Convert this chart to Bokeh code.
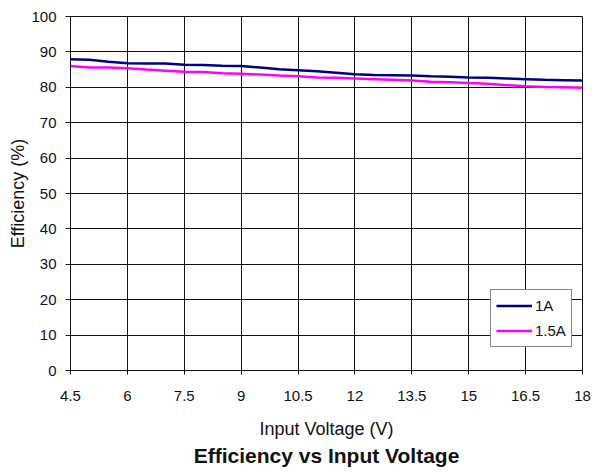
from bokeh.plotting import figure
from bokeh.models import Range1d, FixedTicker, Legend, LegendItem, Title
from bokeh.embed import file_html
from bokeh.resources import INLINE

# ---- data ----
voltage = [4.5, 5, 5.5, 6, 6.5, 7, 7.5, 8, 8.5, 9, 9.5, 10, 10.5, 11, 11.5,
           12, 12.5, 13, 13.5, 14, 14.5, 15, 15.5, 16, 16.5, 17, 17.5, 18]
eff_1a = [87.9, 87.8, 87.2, 86.8, 86.7, 86.7, 86.4, 86.3, 86.1, 86.0, 85.6, 85.1, 84.8, 84.5, 84.1,
          83.7, 83.5, 83.4, 83.3, 83.1, 83.0, 82.8, 82.7, 82.5, 82.3, 82.1, 82.0, 81.9]
eff_15a = [86.0, 85.6, 85.6, 85.4, 85.0, 84.7, 84.4, 84.3, 84.0, 83.8, 83.6, 83.3, 83.1, 82.8, 82.7,
           82.5, 82.3, 82.1, 81.9, 81.6, 81.4, 81.2, 81.0, 80.6, 80.3, 80.1, 80.0, 79.9]
series_names = ["1A", "1.5A"]
x_ticks = [4.5, 6, 7.5, 9, 10.5, 12, 13.5, 15, 16.5, 18]
x_tick_labels = ["4.5", "6", "7.5", "9", "10.5", "12", "13.5", "15", "16.5", "18"]
y_ticks = [0, 10, 20, 30, 40, 50, 60, 70, 80, 90, 100]
y_tick_labels = ["0", "10", "20", "30", "40", "50", "60", "70", "80", "90", "100"]

FONT = "Liberation Sans"

p = figure(width=592, height=472, output_backend="svg", toolbar_location=None,
           x_range=Range1d(4.5, 18), y_range=Range1d(0, 100),
           min_border_left=70, min_border_right=10, min_border_top=16, min_border_bottom=102)
p.background_fill_color = "white"
p.border_fill_color = "white"
p.outline_line_color = "#111111"
p.outline_line_width = 1

# axes
for ax in (p.xaxis[0], p.yaxis[0]):
    ax.axis_line_color = "#111111"
    ax.major_tick_line_color = "#111111"
    ax.minor_tick_line_color = None
    ax.major_tick_in = 0
    ax.major_label_text_font = FONT
    ax.major_label_text_font_size = "15px"
    ax.major_label_text_color = "#111111"
    ax.axis_label_text_font = FONT
    ax.axis_label_text_font_size = "18px"
    ax.axis_label_text_font_style = "normal"
    ax.axis_label_text_color = "#111111"

p.xaxis.ticker = FixedTicker(ticks=x_ticks)
p.xaxis.major_label_overrides = {t: l for t, l in zip(x_ticks, x_tick_labels)}
p.xaxis.major_tick_out = 4
p.xaxis.major_label_standoff = 16
p.xaxis.axis_label = "Input Voltage (V)"
p.xaxis.axis_label_standoff = 15

p.yaxis.ticker = FixedTicker(ticks=y_ticks)
p.yaxis.major_label_overrides = {t: l for t, l in zip(y_ticks, y_tick_labels)}
p.yaxis.major_tick_out = 5
p.yaxis.major_label_standoff = 9
p.yaxis.axis_label = "Efficiency (%)"
p.yaxis.axis_label_standoff = 0

# grid
p.xgrid.ticker = FixedTicker(ticks=x_ticks)
p.ygrid.ticker = FixedTicker(ticks=y_ticks)
for g in (p.xgrid[0], p.ygrid[0]):
    g.grid_line_color = "#111111"
    g.grid_line_width = 1
    g.grid_line_alpha = 1.0

# lines
r1 = p.line(voltage, eff_1a, line_color="#000080", line_width=2.5)
r2 = p.line(voltage, eff_15a, line_color="#FF00FF", line_width=2.5)

legend = Legend(items=[LegendItem(label=series_names[0], renderers=[r1]),
                       LegendItem(label=series_names[1], renderers=[r2])],
                location=(420, 23))
legend.border_line_color = "#111111"
legend.border_line_width = 1
legend.background_fill_color = "white"
legend.background_fill_alpha = 1.0
legend.label_text_font = FONT
legend.label_text_font_size = "15px"
legend.label_text_color = "#111111"
legend.glyph_width = 36
legend.glyph_height = 21
legend.label_standoff = 3
legend.padding = 5
legend.spacing = 4
legend.margin = 0
p.add_layout(legend, "center")

title = Title(text="Efficiency vs Input Voltage", align="center",
              text_font=FONT, text_font_size="21px", text_font_style="bold",
              text_color="#111111", standoff=0)
p.add_layout(title, "below")

open("out.html", "w").write(file_html(p, INLINE))
